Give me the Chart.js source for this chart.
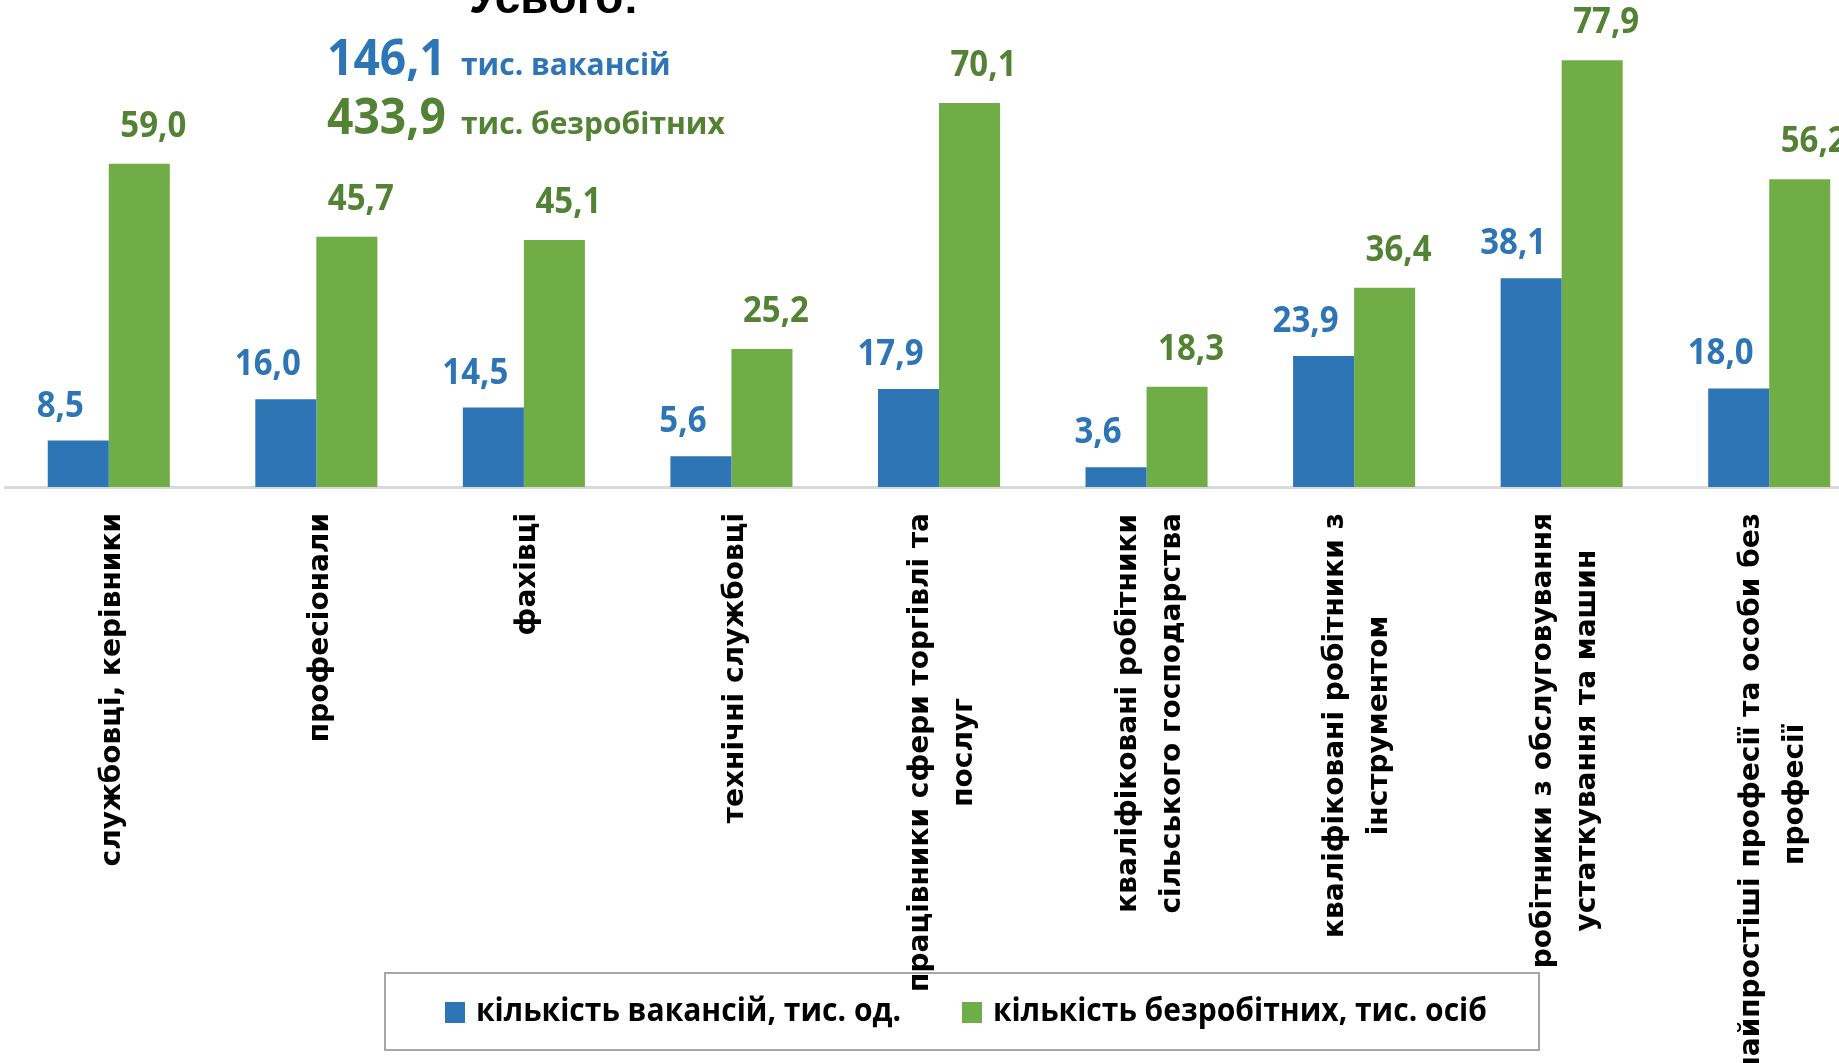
<!DOCTYPE html>
<html><head><meta charset="utf-8">
<script src="https://cdn.jsdelivr.net/npm/chart.js@4"></script>
<style>
html,body{margin:0;padding:0;background:#fff;overflow:hidden;width:1839px;height:1063px}
#wrap{position:relative;width:1880px;height:1063px}
canvas{display:block}
</style></head><body>
<div id="wrap"><canvas id="c" width="1880" height="1063"></canvas></div>
<script>
const categories = [
  ["службовці, керівники"],
  ["професіонали"],
  ["фахівці"],
  ["технічні службовці"],
  ["працівники сфери торгівлі та", "послуг"],
  ["кваліфіковані робітники", "сільського господарства"],
  ["кваліфіковані робітники з", "інструментом"],
  ["робітники з обслуговування", "устаткування та машин"],
  ["найпростіші професії та особи без", "професії"]
];
const vacancies = [8.5, 16.0, 14.5, 5.6, 17.9, 3.6, 23.9, 38.1, 18.0];
const unemployed = [59.0, 45.7, 45.1, 25.2, 70.1, 18.3, 36.4, 77.9, 56.2];
const seriesNames = ["кількість вакансій, тис. од.", "кількість безробітних, тис. осіб"];
const totalTitle = "Усього:";
const totalValues = ["146,1", "433,9"];
const totalUnits = ["тис. вакансій", "тис. безробітних"];

const barColors = ["#2E75B6", "#70AD47"];
const textColors = ["#2E75B6", "#548235"];
const fmt = v => v.toFixed(1).replace(".", ",");

const valueLabels = {
  id: "valueLabels",
  afterDatasetsDraw(chart) {
    const ctx = chart.ctx;
    const dx = [-18, 14];
    const dy = [-34, -37];
    chart.data.datasets.forEach((ds, di) => {
      const meta = chart.getDatasetMeta(di);
      meta.data.forEach((bar, i) => {
        ctx.save();
        ctx.font = 'bold 33px "Open Sans"';
        ctx.fillStyle = textColors[di];
        ctx.textAlign = "center";
        ctx.textBaseline = "middle";
        ctx.translate(bar.x + dx[di], bar.y + dy[di]);
        ctx.scale(1.0, 1.07);
        ctx.fillText(fmt(ds.data[i]), 0, 0);
        ctx.restore();
      });
    });
  }
};

const catLabels = {
  id: "catLabels",
  afterDraw(chart) {
    const ctx = chart.ctx;
    const xs = chart.scales.x;
    const bottom = chart.chartArea.bottom;
    ctx.save();
    ctx.font = 'bold 28px "DejaVu Sans"';
    ctx.fillStyle = "#000";
    ctx.textAlign = "center";
    ctx.textBaseline = "middle";
    categories.forEach((lines, i) => {
      const tx = xs.getPixelForTick(i) + 4;
      const maxW = Math.max(...lines.map(l => ctx.measureText(l).width));
      const cy = bottom + 26 + maxW / 2;
      lines.forEach((line, li) => {
        const lx = tx + (li - (lines.length - 1) / 2) * 44;
        ctx.save();
        ctx.translate(lx, cy);
        ctx.rotate(-Math.PI / 2);
        ctx.fillText(line, 0, 0);
        ctx.restore();
      });
    });
    ctx.restore();
  }
};

const legendBox = {
  id: "legendBox",
  afterDraw(chart) {
    const ctx = chart.ctx;
    ctx.save();
    ctx.strokeStyle = "#A6A6A6";
    ctx.lineWidth = 2;
    ctx.strokeRect(385, 973, 1154, 77);
    ctx.font = 'bold 32px "Open Sans"';
    ctx.textBaseline = "middle";
    ctx.textAlign = "left";
    const sx = 425 / ctx.measureText(seriesNames[0]).width;
    const items = [{sx: 445, tx: 476}, {sx: 962, tx: 993}];
    items.forEach((it, k) => {
      ctx.fillStyle = barColors[k];
      ctx.fillRect(it.sx, 1002, 20, 21);
      ctx.fillStyle = "#000";
      ctx.save();
      ctx.translate(it.tx, 1012);
      ctx.scale(sx, 1);
      ctx.fillText(seriesNames[k], 0, 0);
      ctx.restore();
    });
    ctx.restore();
  }
};

const titleBlock = {
  id: "titleBlock",
  afterDraw(chart) {
    const ctx = chart.ctx;
    ctx.save();
    ctx.textBaseline = "alphabetic";
    ctx.textAlign = "left";
    ctx.fillStyle = "#000";
    ctx.font = 'bold 46px "Liberation Sans"';
    ctx.fillText(totalTitle, 469, 13);
    const bases = [75, 134];
    totalValues.forEach((v, k) => {
      ctx.fillStyle = textColors[k];
      ctx.save();
      ctx.translate(327, bases[k]);
      ctx.scale(1.05, 1.12);
      ctx.font = 'bold 44px "Open Sans"';
      ctx.fillText(v, 0, 0);
      ctx.restore();
      ctx.font = 'bold 30px "Open Sans"';
      ctx.fillText(totalUnits[k], 461, bases[k]);
    });
    ctx.restore();
  }
};

new Chart(document.getElementById("c"), {
  type: "bar",
  data: {
    labels: categories.map(c => c.join(" ")),
    datasets: [
      {label: seriesNames[0], data: vacancies, backgroundColor: barColors[0], categoryPercentage: 0.588, barPercentage: 1.0},
      {label: seriesNames[1], data: unemployed, backgroundColor: barColors[1], categoryPercentage: 0.588, barPercentage: 1.0}
    ]
  },
  options: {
    responsive: false,
    animation: false,
    devicePixelRatio: 1,
    layout: {padding: {left: 5, right: 7, top: 5, bottom: 576}},
    plugins: {legend: {display: false}, tooltip: {enabled: false}},
    scales: {
      x: {grid: {display: false, drawTicks: false}, border: {display: true, color: "#D9D9D9", width: 3}, ticks: {display: false}},
      y: {display: false, min: 0, max: 88}
    }
  },
  plugins: [valueLabels, catLabels, legendBox, titleBlock]
});
</script>
</body></html>
